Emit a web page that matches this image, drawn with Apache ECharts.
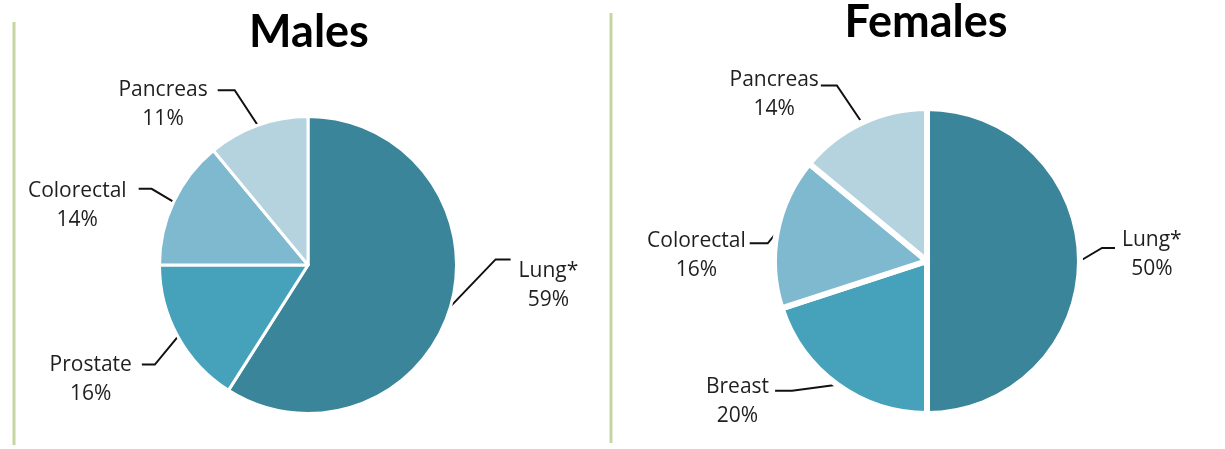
<!DOCTYPE html>
<html>
<head>
<meta charset="utf-8">
<script src="https://cdn.jsdelivr.net/npm/echarts@6/dist/echarts.min.js"></script>
<style>
html,body{margin:0;padding:0;background:#fff;}
#chart{width:1225px;height:449px;}
</style>
</head>
<body>
<div id="chart"></div>
<script>
// ---- data ----
const maleCategories = ['Lung*', 'Prostate', 'Colorectal', 'Pancreas'];
const maleValues = [59, 16, 14, 11];
const femaleCategories = ['Lung*', 'Breast', 'Colorectal', 'Pancreas'];
const femaleValues = [50, 20, 16, 14];
const chartTitles = ['Males', 'Females'];

// ---- styling / layout ----
const sliceColors = ['#3a8599', '#46a1ba', '#7fb9cf', '#b4d3df'];
const FONT = '"Open Sans", Lato, sans-serif';
const TITLE_FONT = 'Lato, "Open Sans", sans-serif';
const LH = 29;
// leader line tweaks per label: [bendDx, bendDy, tailDx, gap, dy]
const leader = [
  [[45, -47, 15, 8, 12], [-23, 28, -13, 10, 0], [-22, -13, -13, 12, 2], [-23, -35, -17, 10, 0]],
  [[22, -13, 13, 7, -8], [-45, 6, -17, 6, -4], [-9, 11, -18, 4, -2], [-25, -37, -16, 2, -6]]
];

function toData(cats, vals) {
  return cats.map((c, i) => ({ name: c, value: vals[i], itemStyle: { color: sliceColors[i] } }));
}

function labelLayout(p) {
  const t = leader[p.seriesIndex][p.dataIndex];
  const pts = p.labelLinePoints;
  if (!pts || !pts[0]) return {};
  const p0 = pts[0];
  const b = [p0[0] + t[0], p0[1] + t[1]];
  const e = [b[0] + t[2], b[1]];
  const w = p.labelRect.width;
  const dir = t[2] > 0 ? 1 : -1;
  return {
    x: e[0] + dir * (t[3] + w / 2),
    y: e[1] - LH / 2 + t[4],
    align: 'center',
    verticalAlign: 'top',
    labelLinePoints: [p0, b, e]
  };
}

function pieSeries(cats, vals, center, radius, border) {
  return {
    type: 'pie',
    center: center,
    radius: radius,
    startAngle: 90,
    clockwise: true,
    avoidLabelOverlap: false,
    animation: false,
    data: toData(cats, vals),
    itemStyle: { borderColor: '#ffffff', borderWidth: border },
    label: {
      show: true,
      position: 'outside',
      formatter: '{b}\n{d}%',
      fontFamily: FONT,
      fontSize: 21,
      lineHeight: LH,
      color: '#1f1f1f',
      align: 'center'
    },
    labelLine: {
      show: true,
      length: 30,
      length2: 15,
      smooth: false,
      lineStyle: { color: '#111111', width: 2 }
    },
    labelLayout: labelLayout,
    emphasis: { disabled: true }
  };
}

const chart = echarts.init(document.getElementById('chart'), null, { renderer: 'canvas' });
chart.setOption({
  backgroundColor: '#ffffff',
  animation: false,
  graphic: [
    { type: 'line', shape: { x1: 14, y1: 22, x2: 14, y2: 445 }, style: { stroke: '#c5d6a3', lineWidth: 3 } },
    { type: 'line', shape: { x1: 611, y1: 13, x2: 611, y2: 443 }, style: { stroke: '#c5d6a3', lineWidth: 3 } },
    { type: 'text', x: 309, y: 32, style: { text: chartTitles[0], font: 'bold 45px ' + TITLE_FONT, fill: '#000', align: 'center', verticalAlign: 'middle' } },
    { type: 'text', x: 926, y: 22, style: { text: chartTitles[1], font: 'bold 45px ' + TITLE_FONT, fill: '#000', align: 'center', verticalAlign: 'middle' } }
  ],
  series: [
    pieSeries(maleCategories, maleValues, [308, 265], 148.5, 3),
    pieSeries(femaleCategories, femaleValues, [927, 261], 153, 6)
  ]
});
</script>
</body>
</html>
